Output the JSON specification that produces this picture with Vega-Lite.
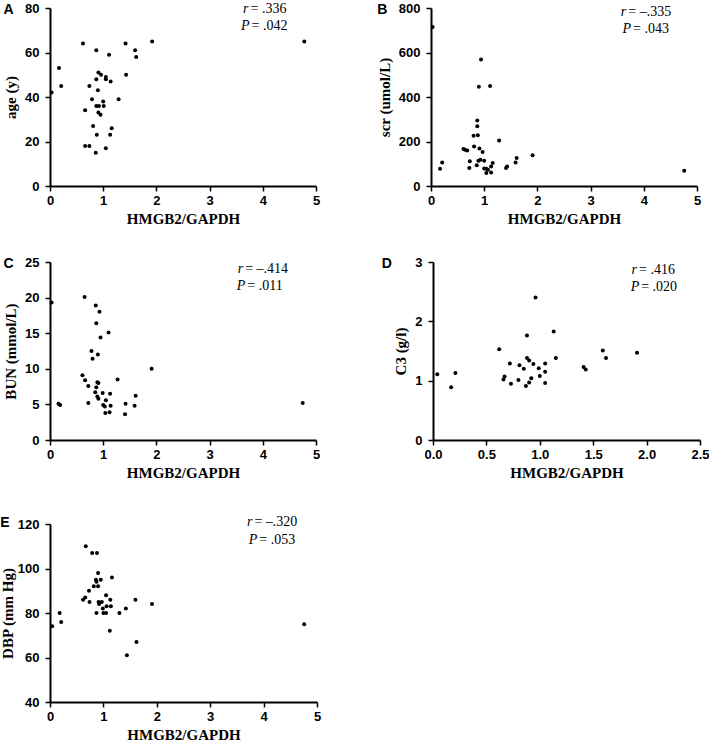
{
  "$schema": "https://vega.github.io/schema/vega-lite/v6.json",
  "padding": {"left": 0, "top": 2, "right": 0, "bottom": 0},
  "background": "white",
  "config": {
    "view": {"stroke": null},
    "axis": {
      "grid": false, "domainColor": "black", "domainWidth": 2, "tickColor": "black", "tickWidth": 1.5, "tickSize": 5,
      "labelFont": "Liberation Sans", "labelFontWeight": "bold", "labelFontSize": 13, "labelColor": "black", "labelFlush": false, "labelOverlap": false,
      "titleFont": "Liberation Serif", "titleFontWeight": "bold", "titleFontSize": 15, "titleColor": "black"
    },
    "axisX": {"labelPadding": 3, "titleBaseline": "alphabetic", "titleY": 37},
    "axisY": {"labelPadding": 6, "titlePadding": 6},
    "title": {"font": "Liberation Sans", "fontWeight": "bold", "fontSize": 14, "color": "black", "anchor": "start", "frame": "bounds", "offset": 0, "baseline": "bottom", "dy": 19},
    "text": {"font": "Liberation Serif", "fontSize": 14, "color": "black"},
    "circle": {"size": 16, "color": "black", "opacity": 1}
  },
  "datasets": {
    "ptsA": [
      {"hmgb2": 0.03, "value": 42}, {"hmgb2": 0.17, "value": 53}, {"hmgb2": 0.21, "value": 45}, {"hmgb2": 0.62, "value": 64},
      {"hmgb2": 0.66, "value": 34}, {"hmgb2": 0.66, "value": 18}, {"hmgb2": 0.74, "value": 18}, {"hmgb2": 0.74, "value": 45},
      {"hmgb2": 0.79, "value": 39}, {"hmgb2": 0.81, "value": 27}, {"hmgb2": 0.87, "value": 61}, {"hmgb2": 0.87, "value": 48},
      {"hmgb2": 0.87, "value": 36}, {"hmgb2": 0.92, "value": 36}, {"hmgb2": 0.88, "value": 23}, {"hmgb2": 0.86, "value": 15},
      {"hmgb2": 0.91, "value": 51}, {"hmgb2": 0.96, "value": 50}, {"hmgb2": 0.90, "value": 43}, {"hmgb2": 0.91, "value": 33},
      {"hmgb2": 0.95, "value": 32}, {"hmgb2": 1.00, "value": 38}, {"hmgb2": 1.01, "value": 36}, {"hmgb2": 1.05, "value": 49},
      {"hmgb2": 1.05, "value": 48}, {"hmgb2": 1.05, "value": 17}, {"hmgb2": 1.11, "value": 59}, {"hmgb2": 1.14, "value": 47},
      {"hmgb2": 1.13, "value": 23}, {"hmgb2": 1.16, "value": 26}, {"hmgb2": 1.29, "value": 39}, {"hmgb2": 1.42, "value": 64},
      {"hmgb2": 1.43, "value": 50}, {"hmgb2": 1.60, "value": 61}, {"hmgb2": 1.62, "value": 58}, {"hmgb2": 1.92, "value": 65},
      {"hmgb2": 4.78, "value": 65}
    ],
    "ptsB": [
      {"hmgb2": 0.03, "value": 715}, {"hmgb2": 0.17, "value": 78}, {"hmgb2": 0.21, "value": 106}, {"hmgb2": 0.61, "value": 166},
      {"hmgb2": 0.64, "value": 163}, {"hmgb2": 0.68, "value": 160}, {"hmgb2": 0.73, "value": 111}, {"hmgb2": 0.72, "value": 81},
      {"hmgb2": 0.80, "value": 226}, {"hmgb2": 0.81, "value": 177}, {"hmgb2": 0.86, "value": 93}, {"hmgb2": 0.87, "value": 294},
      {"hmgb2": 0.87, "value": 268}, {"hmgb2": 0.88, "value": 228}, {"hmgb2": 0.89, "value": 114}, {"hmgb2": 0.90, "value": 446},
      {"hmgb2": 0.91, "value": 168}, {"hmgb2": 0.93, "value": 118}, {"hmgb2": 0.94, "value": 568}, {"hmgb2": 0.97, "value": 153},
      {"hmgb2": 1.00, "value": 114}, {"hmgb2": 1.00, "value": 79}, {"hmgb2": 1.04, "value": 78}, {"hmgb2": 1.04, "value": 58},
      {"hmgb2": 1.07, "value": 73}, {"hmgb2": 1.11, "value": 449}, {"hmgb2": 1.13, "value": 88}, {"hmgb2": 1.16, "value": 103},
      {"hmgb2": 1.13, "value": 61}, {"hmgb2": 1.28, "value": 204}, {"hmgb2": 1.41, "value": 81}, {"hmgb2": 1.43, "value": 88},
      {"hmgb2": 1.59, "value": 106}, {"hmgb2": 1.61, "value": 126}, {"hmgb2": 1.91, "value": 138}, {"hmgb2": 4.76, "value": 69}
    ],
    "ptsC": [
      {"hmgb2": 0.03, "value": 19.3}, {"hmgb2": 0.16, "value": 5.1}, {"hmgb2": 0.19, "value": 4.9}, {"hmgb2": 0.61, "value": 9.1},
      {"hmgb2": 0.65, "value": 20.1}, {"hmgb2": 0.66, "value": 8.4}, {"hmgb2": 0.72, "value": 7.6}, {"hmgb2": 0.72, "value": 5.2},
      {"hmgb2": 0.78, "value": 12.5}, {"hmgb2": 0.80, "value": 11.4}, {"hmgb2": 0.85, "value": 6.7}, {"hmgb2": 0.86, "value": 18.9},
      {"hmgb2": 0.87, "value": 16.4}, {"hmgb2": 0.87, "value": 7.4}, {"hmgb2": 0.89, "value": 8.1}, {"hmgb2": 0.90, "value": 12.0},
      {"hmgb2": 0.91, "value": 8.0}, {"hmgb2": 0.89, "value": 6.1}, {"hmgb2": 0.91, "value": 5.8}, {"hmgb2": 0.93, "value": 18.0},
      {"hmgb2": 0.95, "value": 14.4}, {"hmgb2": 0.99, "value": 6.6}, {"hmgb2": 1.00, "value": 4.9}, {"hmgb2": 1.03, "value": 4.7},
      {"hmgb2": 1.05, "value": 5.6}, {"hmgb2": 1.04, "value": 3.8}, {"hmgb2": 1.10, "value": 15.1}, {"hmgb2": 1.13, "value": 6.5},
      {"hmgb2": 1.12, "value": 3.9}, {"hmgb2": 1.14, "value": 4.8}, {"hmgb2": 1.27, "value": 8.5}, {"hmgb2": 1.41, "value": 3.6},
      {"hmgb2": 1.42, "value": 5.1}, {"hmgb2": 1.59, "value": 4.8}, {"hmgb2": 1.61, "value": 6.2}, {"hmgb2": 1.91, "value": 10.0},
      {"hmgb2": 4.75, "value": 5.2}
    ],
    "ptsD": [
      {"hmgb2": 0.04, "value": 1.11}, {"hmgb2": 0.17, "value": 0.89}, {"hmgb2": 0.21, "value": 1.13}, {"hmgb2": 0.62, "value": 1.53},
      {"hmgb2": 0.66, "value": 1.02}, {"hmgb2": 0.67, "value": 1.07}, {"hmgb2": 0.72, "value": 1.29}, {"hmgb2": 0.73, "value": 0.95},
      {"hmgb2": 0.80, "value": 1.01}, {"hmgb2": 0.81, "value": 1.26}, {"hmgb2": 0.85, "value": 1.20}, {"hmgb2": 0.87, "value": 0.91},
      {"hmgb2": 0.88, "value": 1.76}, {"hmgb2": 0.88, "value": 1.38}, {"hmgb2": 0.90, "value": 1.34}, {"hmgb2": 0.90, "value": 0.97},
      {"hmgb2": 0.92, "value": 1.04}, {"hmgb2": 0.94, "value": 1.28}, {"hmgb2": 0.96, "value": 2.40}, {"hmgb2": 0.99, "value": 1.21},
      {"hmgb2": 1.00, "value": 1.08}, {"hmgb2": 1.05, "value": 1.29}, {"hmgb2": 1.05, "value": 1.15}, {"hmgb2": 1.05, "value": 0.96},
      {"hmgb2": 1.13, "value": 1.83}, {"hmgb2": 1.15, "value": 1.38}, {"hmgb2": 1.41, "value": 1.23}, {"hmgb2": 1.43, "value": 1.19},
      {"hmgb2": 1.59, "value": 1.51}, {"hmgb2": 1.62, "value": 1.38}, {"hmgb2": 1.91, "value": 1.47}
    ],
    "ptsE": [
      {"hmgb2": 0.04, "value": 74}, {"hmgb2": 0.18, "value": 80}, {"hmgb2": 0.21, "value": 76}, {"hmgb2": 0.62, "value": 86},
      {"hmgb2": 0.66, "value": 87}, {"hmgb2": 0.67, "value": 110}, {"hmgb2": 0.73, "value": 90}, {"hmgb2": 0.74, "value": 85},
      {"hmgb2": 0.79, "value": 107}, {"hmgb2": 0.82, "value": 92}, {"hmgb2": 0.88, "value": 107}, {"hmgb2": 0.86, "value": 95},
      {"hmgb2": 0.87, "value": 94}, {"hmgb2": 0.87, "value": 80}, {"hmgb2": 0.90, "value": 98}, {"hmgb2": 0.90, "value": 92},
      {"hmgb2": 0.91, "value": 85}, {"hmgb2": 0.92, "value": 84}, {"hmgb2": 0.95, "value": 95}, {"hmgb2": 0.97, "value": 85},
      {"hmgb2": 0.99, "value": 82}, {"hmgb2": 1.00, "value": 80}, {"hmgb2": 1.05, "value": 88}, {"hmgb2": 1.05, "value": 80},
      {"hmgb2": 1.06, "value": 83}, {"hmgb2": 1.12, "value": 72}, {"hmgb2": 1.13, "value": 86}, {"hmgb2": 1.14, "value": 83},
      {"hmgb2": 1.16, "value": 96}, {"hmgb2": 1.30, "value": 80}, {"hmgb2": 1.42, "value": 82}, {"hmgb2": 1.44, "value": 61},
      {"hmgb2": 1.60, "value": 86}, {"hmgb2": 1.62, "value": 67}, {"hmgb2": 1.91, "value": 84}, {"hmgb2": 4.76, "value": 75}
    ],
    "annA": [{"sym": "r", "txt": "= .336", "x": 3.75, "y": 79.5}, {"sym": "P", "txt": "= .042", "x": 3.77, "y": 71.9}],
    "annB": [{"sym": "r", "txt": "= –.335", "x": 3.69, "y": 781}, {"sym": "P", "txt": "= .043", "x": 3.78, "y": 706}],
    "annC": [{"sym": "r", "txt": "= –.414", "x": 3.65, "y": 23.97}, {"sym": "P", "txt": "= .011", "x": 3.69, "y": 21.67}],
    "annD": [{"sym": "r", "txt": "= .416", "x": 1.92, "y": 2.86}, {"sym": "P", "txt": "= .020", "x": 1.94, "y": 2.574}],
    "annE": [{"sym": "r", "txt": "= –.320", "x": 3.81, "y": 121.0}, {"sym": "P", "txt": "= .053", "x": 3.90, "y": 112.9}]
  },
  "vconcat": [
    {
      "vconcat": [
        {
          "hconcat": [
            {
              "title": {"text": "A"},
              "width": 266, "height": 178,
              "layer": [
                {"data": {"name": "ptsA"}, "mark": {"type": "circle"},
                 "encoding": {
                   "x": {"field": "hmgb2", "type": "quantitative", "scale": {"domain": [0, 5], "nice": false}, "axis": {"values": [0, 1, 2, 3, 4, 5], "tickCount": 6, "title": "HMGB2/GAPDH"}},
                   "y": {"field": "value", "type": "quantitative", "scale": {"domain": [0, 80], "nice": false}, "axis": {"values": [0, 20, 40, 60, 80], "tickCount": 5, "title": "age (y)"}}}},
                {"data": {"name": "annA"}, "mark": {"type": "text", "align": "right", "baseline": "middle", "fontStyle": "italic", "dx": -1},
                 "encoding": {"x": {"field": "x", "type": "quantitative"}, "y": {"field": "y", "type": "quantitative"}, "text": {"field": "sym"}}},
                {"data": {"name": "annA"}, "mark": {"type": "text", "align": "left", "baseline": "middle", "dx": 1},
                 "encoding": {"x": {"field": "x", "type": "quantitative"}, "y": {"field": "y", "type": "quantitative"}, "text": {"field": "txt"}}}
              ]
            },
            {
              "title": {"text": "B"},
              "width": 266, "height": 178,
              "layer": [
                {"data": {"name": "ptsB"}, "mark": {"type": "circle"},
                 "encoding": {
                   "x": {"field": "hmgb2", "type": "quantitative", "scale": {"domain": [0, 5], "nice": false}, "axis": {"values": [0, 1, 2, 3, 4, 5], "tickCount": 6, "title": "HMGB2/GAPDH"}},
                   "y": {"field": "value", "type": "quantitative", "scale": {"domain": [0, 800], "nice": false}, "axis": {"values": [0, 200, 400, 600, 800], "tickCount": 5, "title": "scr (umol/L)"}}}},
                {"data": {"name": "annB"}, "mark": {"type": "text", "align": "right", "baseline": "middle", "fontStyle": "italic", "dx": -1},
                 "encoding": {"x": {"field": "x", "type": "quantitative"}, "y": {"field": "y", "type": "quantitative"}, "text": {"field": "sym"}}},
                {"data": {"name": "annB"}, "mark": {"type": "text", "align": "left", "baseline": "middle", "dx": 1},
                 "encoding": {"x": {"field": "x", "type": "quantitative"}, "y": {"field": "y", "type": "quantitative"}, "text": {"field": "txt"}}}
              ]
            }
          ],
          "spacing": 57
        },
        {
          "hconcat": [
            {
              "title": {"text": "C"},
              "width": 266, "height": 178,
              "layer": [
                {"data": {"name": "ptsC"}, "mark": {"type": "circle"},
                 "encoding": {
                   "x": {"field": "hmgb2", "type": "quantitative", "scale": {"domain": [0, 5], "nice": false}, "axis": {"values": [0, 1, 2, 3, 4, 5], "tickCount": 6, "title": "HMGB2/GAPDH"}},
                   "y": {"field": "value", "type": "quantitative", "scale": {"domain": [0, 25], "nice": false}, "axis": {"values": [0, 5, 10, 15, 20, 25], "tickCount": 6, "title": "BUN (mmol/L)"}}}},
                {"data": {"name": "annC"}, "mark": {"type": "text", "align": "right", "baseline": "middle", "fontStyle": "italic", "dx": -1},
                 "encoding": {"x": {"field": "x", "type": "quantitative"}, "y": {"field": "y", "type": "quantitative"}, "text": {"field": "sym"}}},
                {"data": {"name": "annC"}, "mark": {"type": "text", "align": "left", "baseline": "middle", "dx": 1},
                 "encoding": {"x": {"field": "x", "type": "quantitative"}, "y": {"field": "y", "type": "quantitative"}, "text": {"field": "txt"}}}
              ]
            },
            {
              "title": {"text": "D", "dx": -12},
              "width": 267, "height": 178,
              "layer": [
                {"data": {"name": "ptsD"}, "mark": {"type": "circle"},
                 "encoding": {
                   "x": {"field": "hmgb2", "type": "quantitative", "scale": {"domain": [0, 2.5], "nice": false}, "axis": {"values": [0, 0.5, 1, 1.5, 2, 2.5], "tickCount": 6, "format": ".1f", "title": "HMGB2/GAPDH"}},
                   "y": {"field": "value", "type": "quantitative", "scale": {"domain": [0, 3], "nice": false}, "axis": {"values": [0, 1, 2, 3], "tickCount": 4, "format": "d", "title": "C3 (g/l)"}}}},
                {"data": {"name": "annD"}, "mark": {"type": "text", "align": "right", "baseline": "middle", "fontStyle": "italic", "dx": -1},
                 "encoding": {"x": {"field": "x", "type": "quantitative"}, "y": {"field": "y", "type": "quantitative"}, "text": {"field": "sym"}}},
                {"data": {"name": "annD"}, "mark": {"type": "text", "align": "left", "baseline": "middle", "dx": 1},
                 "encoding": {"x": {"field": "x", "type": "quantitative"}, "y": {"field": "y", "type": "quantitative"}, "text": {"field": "txt"}}}
              ]
            }
          ],
          "spacing": 61
        }
      ],
      "spacing": 30,
      "align": "none"
    },
    {
      "hconcat": [
        {
          "title": {"text": "E"},
          "width": 267, "height": 178,
          "layer": [
            {"data": {"name": "ptsE"}, "mark": {"type": "circle"},
             "encoding": {
               "x": {"field": "hmgb2", "type": "quantitative", "scale": {"domain": [0, 5], "nice": false}, "axis": {"values": [0, 1, 2, 3, 4, 5], "tickCount": 6, "title": "HMGB2/GAPDH"}},
               "y": {"field": "value", "type": "quantitative", "scale": {"domain": [40, 120], "nice": false}, "axis": {"values": [40, 60, 80, 100, 120], "tickCount": 5, "titlePadding": 2, "title": "DBP (mm Hg)"}}}},
            {"data": {"name": "annE"}, "mark": {"type": "text", "align": "right", "baseline": "middle", "fontStyle": "italic", "dx": -1},
             "encoding": {"x": {"field": "x", "type": "quantitative"}, "y": {"field": "y", "type": "quantitative"}, "text": {"field": "sym"}}},
            {"data": {"name": "annE"}, "mark": {"type": "text", "align": "left", "baseline": "middle", "dx": 1},
             "encoding": {"x": {"field": "x", "type": "quantitative"}, "y": {"field": "y", "type": "quantitative"}, "text": {"field": "txt"}}}
          ]
        }
      ]
    }
  ],
  "spacing": 34,
  "align": "none"
}
